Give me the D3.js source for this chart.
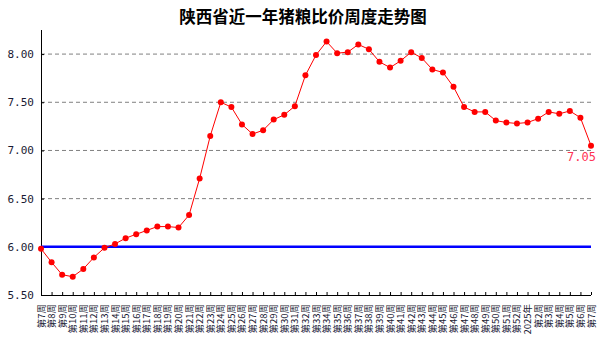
<!DOCTYPE html>
<html><head><meta charset="utf-8">
<script src="https://cdn.jsdelivr.net/npm/d3@7"></script>
<style>body{margin:0;background:#fff}</style>
</head><body>
<script>
const weeks = ["第7周","第8周","第9周","第10周","第11周","第12周","第13周","第14周","第15周","第16周","第17周","第18周","第19周","第20周","第21周","第22周","第23周","第24周","第25周","第26周","第27周","第28周","第29周","第30周","第31周","第32周","第33周","第34周","第35周","第36周","第37周","第38周","第39周","第40周","第41周","第42周","第43周","第44周","第45周","第46周","第47周","第48周","第49周","第50周","第51周","第52周","2025年","第2周","第3周","第4周","第5周","第6周","第7周"];
const ratio = [5.98,5.84,5.71,5.69,5.77,5.89,5.99,6.03,6.09,6.13,6.17,6.21,6.21,6.20,6.33,6.71,7.15,7.50,7.45,7.27,7.17,7.21,7.32,7.37,7.46,7.78,7.99,8.13,8.01,8.02,8.10,8.05,7.92,7.86,7.93,8.02,7.96,7.84,7.81,7.66,7.45,7.40,7.40,7.31,7.29,7.28,7.29,7.33,7.40,7.38,7.41,7.34,7.05];
const yTicks = [5.5,6.0,6.5,7.0,7.5,8.0];
const gridTicks = [6.5,7.0,7.5,8.0];
const baseline = 6.0;
const title = "陕西省近一年猪粮比价周度走势图";

(function(){
const W = 606, H = 344;
const svg = d3.select("body").append("svg").attr("width", W).attr("height", H);
const mL = 41, mR = 591, mT = 30, mB = 295;
const idx = d3.range(weeks.length);
const x = d3.scalePoint().domain(idx).range([mL, mR]).padding(0);
const y = d3.scaleLinear().domain([5.5, 8.25]).range([mB, mT]);

svg.append("text").attr("x", 303).attr("y", 23).attr("text-anchor", "middle")
  .attr("font-family", "Noto Sans CJK SC").attr("font-weight", "bold").attr("font-size", 16.5)
  .text(title);

// grid
svg.append("g").selectAll("line").data(gridTicks).join("line")
  .attr("x1", mL).attr("x2", mR).attr("y1", d => y(d)).attr("y2", d => y(d))
  .attr("stroke", "#808080").attr("stroke-dasharray", "4,3").attr("stroke-width", 1);

// y axis
const ya = svg.append("g").attr("transform", `translate(${mL},0)`)
  .call(d3.axisRight(y).tickValues(yTicks).tickSize(3).tickFormat(""));
ya.select(".domain").attr("d", `M0.5,${mT}V${mB}`).attr("stroke", "#000");
ya.selectAll(".tick line").attr("stroke", "#000");
svg.append("g").selectAll("text").data(yTicks).join("text")
  .attr("x", 34).attr("y", d => y(d) + 4).attr("text-anchor", "end")
  .attr("font-family", "DejaVu Sans Mono").attr("font-size", 11).attr("fill", "#1a1a33")
  .text(d => d3.format(".2f")(d));

// x axis
const xa = svg.append("g").attr("transform", `translate(0,${mB})`)
  .call(d3.axisTop(x).tickSize(3).tickFormat(""));
xa.select(".domain").attr("d", `M${mL},0.5H${mR}`).attr("stroke", "#000");
xa.selectAll(".tick line").attr("stroke", "#000");
svg.append("g").selectAll("text").data(idx).join("text")
  .attr("transform", d => `translate(${x(d) + 3.5},${mB + 9}) rotate(-90)`)
  .attr("text-anchor", "end")
  .attr("font-family", "Noto Sans CJK SC").attr("font-size", 9.5).attr("fill", "#1a1a33")
  .text(d => weeks[d]);

// baseline
svg.append("line").attr("x1", mL).attr("x2", mR).attr("y1", y(baseline)).attr("y2", y(baseline))
  .attr("stroke", "#0000ff").attr("stroke-width", 2.5);

// series
const line = d3.line().x((d, i) => x(i)).y(d => y(d));
svg.append("path").datum(ratio).attr("d", line).attr("fill", "none").attr("stroke", "#ff0000").attr("stroke-width", 1);
svg.append("g").selectAll("circle").data(ratio).join("circle")
  .attr("cx", (d, i) => x(i)).attr("cy", d => y(d)).attr("r", 3).attr("fill", "#ff0000");

const last = ratio.length - 1;
svg.append("text").attr("x", x(last) + 5).attr("y", y(ratio[last]) + 15).attr("text-anchor", "end")
  .attr("font-family", "DejaVu Sans Mono").attr("font-size", 12).attr("fill", "#ff3355")
  .text(ratio[last].toFixed(2));
})();
</script>
</body></html>
